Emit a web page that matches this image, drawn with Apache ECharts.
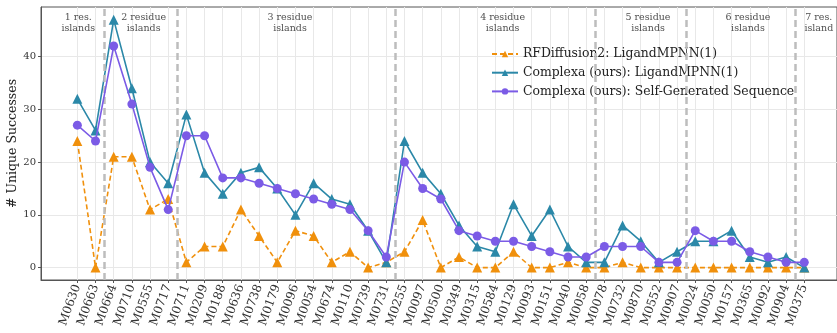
<!DOCTYPE html>
<html>
<head>
<meta charset="utf-8">
<script src="https://cdn.jsdelivr.net/npm/echarts@6/dist/echarts.min.js"></script>
<style>
  html, body { margin: 0; padding: 0; background: #fff; }
  #chart { width: 837px; height: 333px; }
</style>
</head>
<body>
<div id="chart"></div>
<script>
// Target ligands, grouped by number of residue islands
const categories = [
  'M0630','M0663','M0664','M0710','M0555','M0717','M0711','M0209','M0188','M0636',
  'M0738','M0179','M0096','M0054','M0674','M0110','M0739','M0731','M0255','M0097',
  'M0500','M0349','M0315','M0584','M0129','M0093','M0151','M0040','M0058','M0078',
  'M0732','M0870','M0552','M0907','M0024','M0050','M0157','M0365','M0092','M0904','M0375'
];

const rfdiffusion2 = [24,0,21,21,11,13,1,4,4,11,6,1,7,6,1,3,0,1,3,9,0,2,0,0,3,0,0,1,0,0,1,0,0,0,0,0,0,0,0,0,0];
const complexaMPNN = [32,26,47,34,20,16,29,18,14,18,19,15,10,16,13,12,7,1,24,18,14,8,4,3,12,6,11,4,1,1,8,5,1,3,5,5,7,2,1,2,0];
const complexaSelf = [27,24,42,31,19,11,25,25,17,17,16,15,14,13,12,11,7,2,20,15,13,7,6,5,5,4,3,2,2,4,4,4,1,1,7,5,5,3,2,1,1];

const yTicks = [0, 10, 20, 30, 40];

// Group boundaries (between category indices) and group captions
const groupSeparators = [1.5, 5.5, 17.5, 28.5, 33.5, 39.5];
const groupLabels = [
  '1 res.\nislands', '2 residue\nislands', '3 residue\nislands', '4 residue\nislands',
  '5 residue\nislands', '6 residue\nislands', '7 res.\nisland'
];
const groupLabelAnchor = [0.05, 3.65, 11.7, 23.4, 31.4, 36.9, 40.8];

const seriesNames = [
  'RFDiffusion2: LigandMPNN(1)',
  'Complexa (ours): LigandMPNN(1)',
  'Complexa (ours): Self-Generated Sequence'
];

const SERIF = '"DejaVu Serif", serif';
const ORANGE = '#f0900c';
const TEAL = '#2b88a8';
const PURPLE = '#7b5be6';

const toXY = arr => arr.map((v, i) => [i, v]);
const xIdx = categories.map((_, i) => i);

const chart = echarts.init(document.getElementById('chart'), null, { renderer: 'canvas' });

chart.setOption({
  animation: false,
  backgroundColor: '#fff',
  grid: {
    left: 41, right: 0, top: 7, bottom: 53,
    containLabel: false, outerBoundsMode: 'none',
    show: true, borderColor: '#555', borderWidth: 1
  },
  legend: {
    orient: 'vertical',
    left: 486,
    top: 42,
    itemWidth: 26,
    itemHeight: 8,
    itemGap: 4.7,
    textStyle: { fontFamily: SERIF, fontSize: 12.4, color: '#222', lineHeight: 14 },
    data: seriesNames
  },
  xAxis: {
    type: 'value',
    min: -2,
    max: 41.8,
    axisLine: { show: true, onZero: false, lineStyle: { color: '#555', width: 1 } },
    axisTick: { show: true, customValues: xIdx, length: 3, lineStyle: { color: '#555' } },
    splitLine: { show: true, lineStyle: { color: '#e8e8e8', width: 1 } },
    axisLabel: {
      customValues: xIdx,
      rotate: 70,
      margin: 5,
      fontFamily: SERIF,
      fontSize: 12,
      color: '#333',
      formatter: v => categories[Math.round(v)] || ''
    }
  },
  yAxis: {
    type: 'value',
    min: -2.35,
    max: 49.4,
    name: '# Unique Successes',
    nameLocation: 'middle',
    nameGap: 22,
    nameMoveOverlap: false,
    nameTextStyle: { fontFamily: SERIF, fontSize: 12.5, color: '#222' },
    axisLine: { show: true, onZero: false, lineStyle: { color: '#555', width: 1 } },
    axisTick: { show: true, customValues: yTicks, length: 3, lineStyle: { color: '#555' } },
    splitLine: { show: true, lineStyle: { color: '#e8e8e8', width: 1 } },
    axisLabel: {
      customValues: yTicks,
      margin: 5,
      fontFamily: SERIF,
      fontSize: 10,
      color: '#333'
    }
  },
  series: [
    {
      name: seriesNames[0],
      type: 'line',
      data: toXY(rfdiffusion2),
      symbol: 'triangle',
      symbolSize: 10,
      color: ORANGE,
      lineStyle: { color: ORANGE, width: 1.6, type: [5, 3] },
      itemStyle: { color: ORANGE },
      z: 3,
      markLine: {
        silent: true,
        symbol: ['none', 'none'],
        label: { show: false },
        lineStyle: { color: '#bdbdbd', width: 2.5, type: [7, 4] },
        data: groupSeparators.map(x => ({ xAxis: x }))
      }
    },
    {
      name: seriesNames[1],
      type: 'line',
      data: toXY(complexaMPNN),
      symbol: 'triangle',
      symbolSize: 10,
      color: TEAL,
      lineStyle: { color: TEAL, width: 1.6 },
      itemStyle: { color: TEAL },
      z: 4
    },
    {
      name: seriesNames[2],
      type: 'line',
      data: toXY(complexaSelf),
      symbol: 'circle',
      symbolSize: 9,
      color: PURPLE,
      lineStyle: { color: PURPLE, width: 1.6 },
      itemStyle: { color: PURPLE },
      z: 5
    },
    {
      name: 'groups',
      type: 'scatter',
      silent: true,
      symbolSize: 0,
      data: groupLabelAnchor.map((x, i) => ({ value: [x, 46.4], name: groupLabels[i] })),
      label: {
        show: true,
        position: 'inside',
        formatter: p => p.name,
        fontFamily: SERIF,
        fontSize: 9.5,
        lineHeight: 11,
        color: '#222',
        align: 'center'
      },
      z: 6
    }
  ]
});
</script>
</body>
</html>
